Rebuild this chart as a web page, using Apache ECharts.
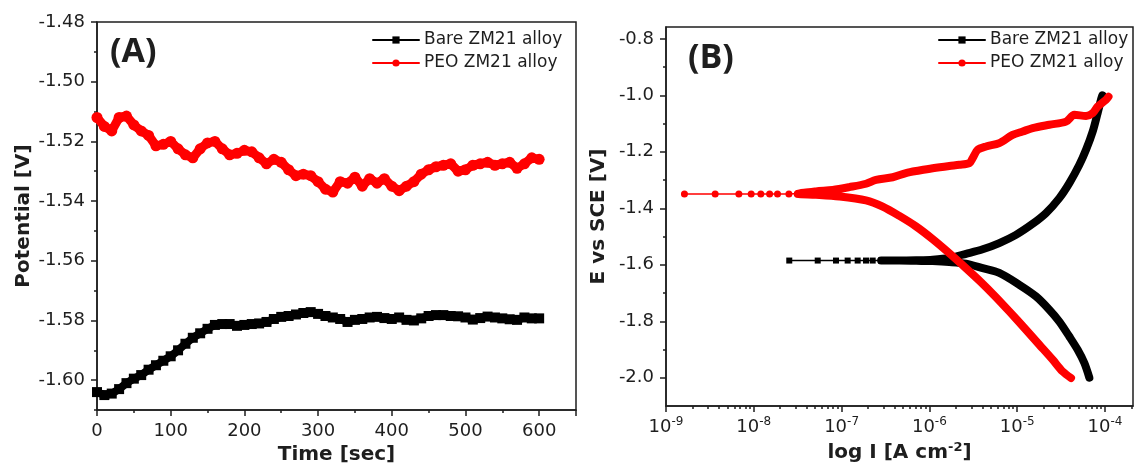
<!DOCTYPE html>
<html>
<head>
<meta charset="utf-8">
<script src="https://cdn.jsdelivr.net/npm/echarts@6/dist/echarts.min.js"></script>
<style>
html, body { margin: 0; padding: 0; background: #fff; }
#main { width: 1134px; height: 470px; }
</style>
</head>
<body>
<div id="main"></div>
<script>
// (A) open circuit potential vs time
const timeSec = [0,10,20,30,40,50,60,70,80,90,100,110,120,130,140,150,160,170,180,190,200,
  210,220,230,240,250,260,270,280,290,300,310,320,330,340,350,360,370,380,390,400,
  410,420,430,440,450,460,470,480,490,500,510,520,530,540,550,560,570,580,590,600];
const bareOcp = [-1.6040,-1.6050,-1.6045,-1.6030,-1.6010,-1.5995,-1.5983,-1.5965,-1.5950,-1.5935,
  -1.5920,-1.5900,-1.5878,-1.5858,-1.5843,-1.5828,-1.5815,-1.5812,-1.5812,-1.5818,
  -1.5815,-1.5812,-1.5810,-1.5805,-1.5795,-1.5788,-1.5785,-1.5780,-1.5775,-1.5772,
  -1.5778,-1.5785,-1.5790,-1.5795,-1.5805,-1.5798,-1.5795,-1.5790,-1.5788,-1.5792,
  -1.5795,-1.5790,-1.5798,-1.5800,-1.5793,-1.5785,-1.5782,-1.5782,-1.5785,-1.5786,
  -1.5790,-1.5797,-1.5792,-1.5787,-1.5790,-1.5793,-1.5796,-1.5798,-1.5790,-1.5793,-1.5793];
const peoOcp = [-1.5120,-1.5150,-1.5165,-1.5120,-1.5115,-1.5145,-1.5165,-1.5180,-1.5215,-1.5210,
  -1.5200,-1.5225,-1.5245,-1.5255,-1.5225,-1.5205,-1.5200,-1.5225,-1.5245,-1.5240,
  -1.5230,-1.5235,-1.5255,-1.5275,-1.5260,-1.5270,-1.5295,-1.5315,-1.5310,-1.5315,
  -1.5335,-1.5360,-1.5370,-1.5335,-1.5340,-1.5320,-1.5350,-1.5325,-1.5340,-1.5325,
  -1.5350,-1.5365,-1.5350,-1.5335,-1.5310,-1.5295,-1.5285,-1.5280,-1.5275,-1.5300,
  -1.5295,-1.5280,-1.5275,-1.5270,-1.5280,-1.5275,-1.5270,-1.5290,-1.5275,-1.5255,-1.5260];

// (B) Tafel curves, log10 of current density (A cm-2) and potential (V vs SCE)
// sparse points close to Ecorr
const bareTipLogI = [-6.550,-6.646,-6.722,-6.817,-6.931,-7.064,-7.272,-7.596];
const bareTipE = [-1.585,-1.585,-1.585,-1.585,-1.585,-1.585,-1.585,-1.585];
const peoTipLogI = [-7.500,-7.600,-7.730,-7.820,-7.920,-8.030,-8.170,-8.440,-8.790];
const peoTipE = [-1.348,-1.349,-1.349,-1.349,-1.349,-1.349,-1.349,-1.349,-1.349];
// cathodic branch then anodic branch
const bareLogI = [-4.178,-4.235,-4.311,-4.406,-4.520,-4.634,-4.786,-4.976,-5.204,-5.393,
  -5.583,-5.773,-5.963,-6.150,-6.342,-6.550,
  -6.342,-6.150,-5.963,-5.773,-5.583,-5.393,-5.204,-5.014,-4.824,-4.672,
  -4.520,-4.406,-4.292,-4.216,-4.140,-4.084,-4.046,-4.030];
const bareE = [-2.000,-1.948,-1.901,-1.854,-1.801,-1.759,-1.712,-1.671,-1.629,-1.612,
  -1.596,-1.590,-1.587,-1.586,-1.585,-1.585,
  -1.585,-1.584,-1.582,-1.576,-1.561,-1.545,-1.523,-1.494,-1.455,-1.417,
  -1.364,-1.311,-1.246,-1.193,-1.128,-1.063,-1.016,-1.000];
const peoLogI = [-4.387,-4.482,-4.596,-4.748,-4.900,-5.090,-5.250,-5.410,-5.583,-5.773,
  -5.963,-6.153,-6.342,-6.532,-6.722,-7.026,-7.292,-7.500,
  -7.292,-7.102,-6.912,-6.722,-6.608,-6.418,-6.267,-6.115,-5.963,-5.773,
  -5.659,-5.545,-5.507,-5.450,-5.355,-5.204,-5.052,-4.938,-4.824,-4.634,
  -4.444,-4.349,-4.216,-4.140,-4.084,-3.989,-3.960];
const peoE = [-2.001,-1.978,-1.936,-1.883,-1.830,-1.765,-1.712,-1.662,-1.612,-1.559,
  -1.509,-1.464,-1.427,-1.394,-1.372,-1.358,-1.352,-1.349,
  -1.340,-1.335,-1.325,-1.313,-1.299,-1.290,-1.275,-1.266,-1.258,-1.250,
  -1.246,-1.240,-1.222,-1.193,-1.181,-1.169,-1.140,-1.128,-1.116,-1.104,
  -1.093,-1.069,-1.073,-1.063,-1.040,-1.016,-1.005];

// tick labels
const timeTicks = [0,100,200,300,400,500,600];
const potTicks = [-1.60,-1.58,-1.56,-1.54,-1.52,-1.50,-1.48];
const potMinor = [-1.61,-1.59,-1.57,-1.55,-1.53,-1.51,-1.49];
const eTicks = [-2.0,-1.8,-1.6,-1.4,-1.2,-1.0,-0.8];
const eMinor = [-1.9,-1.7,-1.5,-1.3,-1.1,-0.9];
const logTicks = [-9,-8,-7,-6,-5,-4];

const LOG_MAX = -3.681;
const logMinor = [];
logTicks.forEach(function (n) {
  for (let k = 2; k <= 9; k++) {
    const v = n + Math.log10(k);
    if (v < LOG_MAX) logMinor.push(v);
  }
});

const pairs = (xs, ys) => xs.map((x, i) => [x, ys[i]]);

const FONT = 'DejaVu Sans';
const INK = '#1e1e1e';
const lineCol = { color: INK, width: 1.5 };
const labelStyle = { fontFamily: FONT, fontSize: 18, color: INK };
const nameStyle = { fontFamily: FONT, fontSize: 20, fontWeight: 'bold', color: INK };
const legendText = { fontFamily: FONT, fontSize: 17, color: INK, lineHeight: 18 };

function minorAxis(grid, pos, vals, min, max) {
  return {
    type: 'value', gridIndex: grid, position: pos, min: min, max: max,
    axisLine: { show: false }, axisLabel: { show: false }, splitLine: { show: false },
    axisTick: { show: true, inside: false, length: 3, customValues: vals, lineStyle: lineCol }
  };
}

var myChart = echarts.init(document.getElementById('main'));
var option = {
  animation: false,
  backgroundColor: '#fff',
  grid: [
    { left: 97, top: 22, width: 479, height: 388, show: true, borderColor: INK, borderWidth: 1.5, outerBoundsMode: 'none' },
    { left: 666, top: 27, width: 467, height: 379, show: true, borderColor: INK, borderWidth: 1.5, outerBoundsMode: 'none' }
  ],
  graphic: [
    { type: 'text', left: 110, top: 35, style: { text: '(A)', fontFamily: 'Open Sans', fontWeight: 'bold', fontSize: 34, fill: INK } },
    { type: 'text', left: 688, top: 41, style: { text: '(B)', fontFamily: 'Open Sans', fontWeight: 'bold', fontSize: 34, fill: INK } }
  ],
  legend: [
    {
      left: 372, top: 31, padding: 0, orient: 'vertical', itemWidth: 46, itemHeight: 9, itemGap: 5,
      data: ['Bare ZM21 alloy', 'PEO ZM21 alloy'],
      lineStyle: { width: 2 },
      textStyle: legendText
    },
    {
      left: 938, top: 31, padding: 0, orient: 'vertical', itemWidth: 46, itemHeight: 9, itemGap: 5,
      data: ['Bare ZM21 alloy', 'PEO ZM21 alloy'],
      lineStyle: { width: 2 },
      textStyle: legendText
    }
  ],
  xAxis: [
    {
      type: 'value', gridIndex: 0, min: 0, max: 650, interval: 100,
      name: 'Time [sec]', nameLocation: 'middle', nameGap: 33, nameTextStyle: nameStyle,
      axisLine: { lineStyle: lineCol },
      axisTick: { length: 6, lineStyle: lineCol },
      minorTick: { show: true, splitNumber: 2, length: 3, lineStyle: lineCol },
      axisLabel: Object.assign({ margin: 12, customValues: timeTicks }, labelStyle),
      splitLine: { show: false }
    },
    {
      type: 'value', gridIndex: 1, min: -9, max: LOG_MAX,
      name: '{n|log I [A cm}{s|-2}{n|]}', nameLocation: 'middle', nameGap: 32,
      nameTextStyle: {
        rich: {
          n: { fontFamily: FONT, fontSize: 20, fontWeight: 'bold', color: INK, lineHeight: 24 },
          s: { fontFamily: FONT, fontSize: 13, fontWeight: 'bold', color: INK, lineHeight: 14, verticalAlign: 'top' }
        }
      },
      axisLine: { lineStyle: lineCol },
      axisTick: { length: 6, customValues: logTicks, lineStyle: lineCol },
      axisLabel: {
        margin: 10, customValues: logTicks,
        formatter: function (v) { return '{b|10}{s|' + v + '}'; },
        rich: {
          b: { fontFamily: FONT, fontSize: 18, color: INK, lineHeight: 22 },
          s: { fontFamily: FONT, fontSize: 12, color: INK, lineHeight: 12, verticalAlign: 'top' }
        }
      },
      splitLine: { show: false }
    },
    minorAxis(1, 'bottom', logMinor, -9, LOG_MAX)
  ],
  yAxis: [
    {
      type: 'value', gridIndex: 0, min: -1.61, max: -1.48,
      name: 'Potential [V]', nameLocation: 'middle', nameGap: 63, nameTextStyle: nameStyle,
      axisLine: { lineStyle: lineCol },
      axisTick: { length: 6, customValues: potTicks, lineStyle: lineCol },
      axisLabel: Object.assign({ margin: 12, customValues: potTicks,
        formatter: function (v) { return v.toFixed(2); } }, labelStyle),
      splitLine: { show: false }
    },
    minorAxis(0, 'left', potMinor, -1.61, -1.48),
    {
      type: 'value', gridIndex: 1, min: -2.1, max: -0.758,
      name: 'E vs SCE [V]', nameLocation: 'middle', nameGap: 57, nameTextStyle: nameStyle,
      axisLine: { lineStyle: lineCol },
      axisTick: { length: 6, customValues: eTicks, lineStyle: lineCol },
      axisLabel: Object.assign({ margin: 12, customValues: eTicks,
        formatter: function (v) { return v.toFixed(1); } }, labelStyle),
      splitLine: { show: false }
    },
    minorAxis(1, 'left', eMinor, -2.1, -0.758)
  ],
  series: [
    {
      name: 'Bare ZM21 alloy', type: 'line', xAxisIndex: 0, yAxisIndex: 0,
      data: pairs(timeSec, bareOcp),
      symbol: 'rect', symbolSize: 10, color: '#000',
      lineStyle: { width: 8, color: '#000', join: 'round', cap: 'round' }
    },
    {
      name: 'PEO ZM21 alloy', type: 'line', xAxisIndex: 0, yAxisIndex: 0,
      data: pairs(timeSec, peoOcp),
      symbol: 'circle', symbolSize: 11, color: '#ff0000',
      lineStyle: { width: 9, color: '#ff0000', join: 'round', cap: 'round' }
    },
    {
      name: 'Bare ZM21 alloy', type: 'line', xAxisIndex: 1, yAxisIndex: 2,
      data: pairs(bareTipLogI, bareTipE),
      symbol: 'rect', symbolSize: 6, color: '#000',
      lineStyle: { width: 1.5, color: '#000' }
    },
    {
      name: 'Bare ZM21 alloy', type: 'line', xAxisIndex: 1, yAxisIndex: 2,
      data: pairs(bareLogI, bareE), smooth: 0.3,
      showSymbol: false, color: '#000',
      lineStyle: { width: 8, color: '#000', join: 'round', cap: 'round' }
    },
    {
      name: 'PEO ZM21 alloy', type: 'line', xAxisIndex: 1, yAxisIndex: 2,
      data: pairs(peoTipLogI, peoTipE),
      symbol: 'circle', symbolSize: 7, color: '#ff0000',
      lineStyle: { width: 1.5, color: '#ff0000' }
    },
    {
      name: 'PEO ZM21 alloy', type: 'line', xAxisIndex: 1, yAxisIndex: 2,
      data: pairs(peoLogI, peoE), smooth: 0.3,
      showSymbol: false, color: '#ff0000',
      lineStyle: { width: 8, color: '#ff0000', join: 'round', cap: 'round' }
    }
  ]
};
myChart.setOption(option);
window.addEventListener('resize', function () { myChart.resize(); });
</script>
</body>
</html>
